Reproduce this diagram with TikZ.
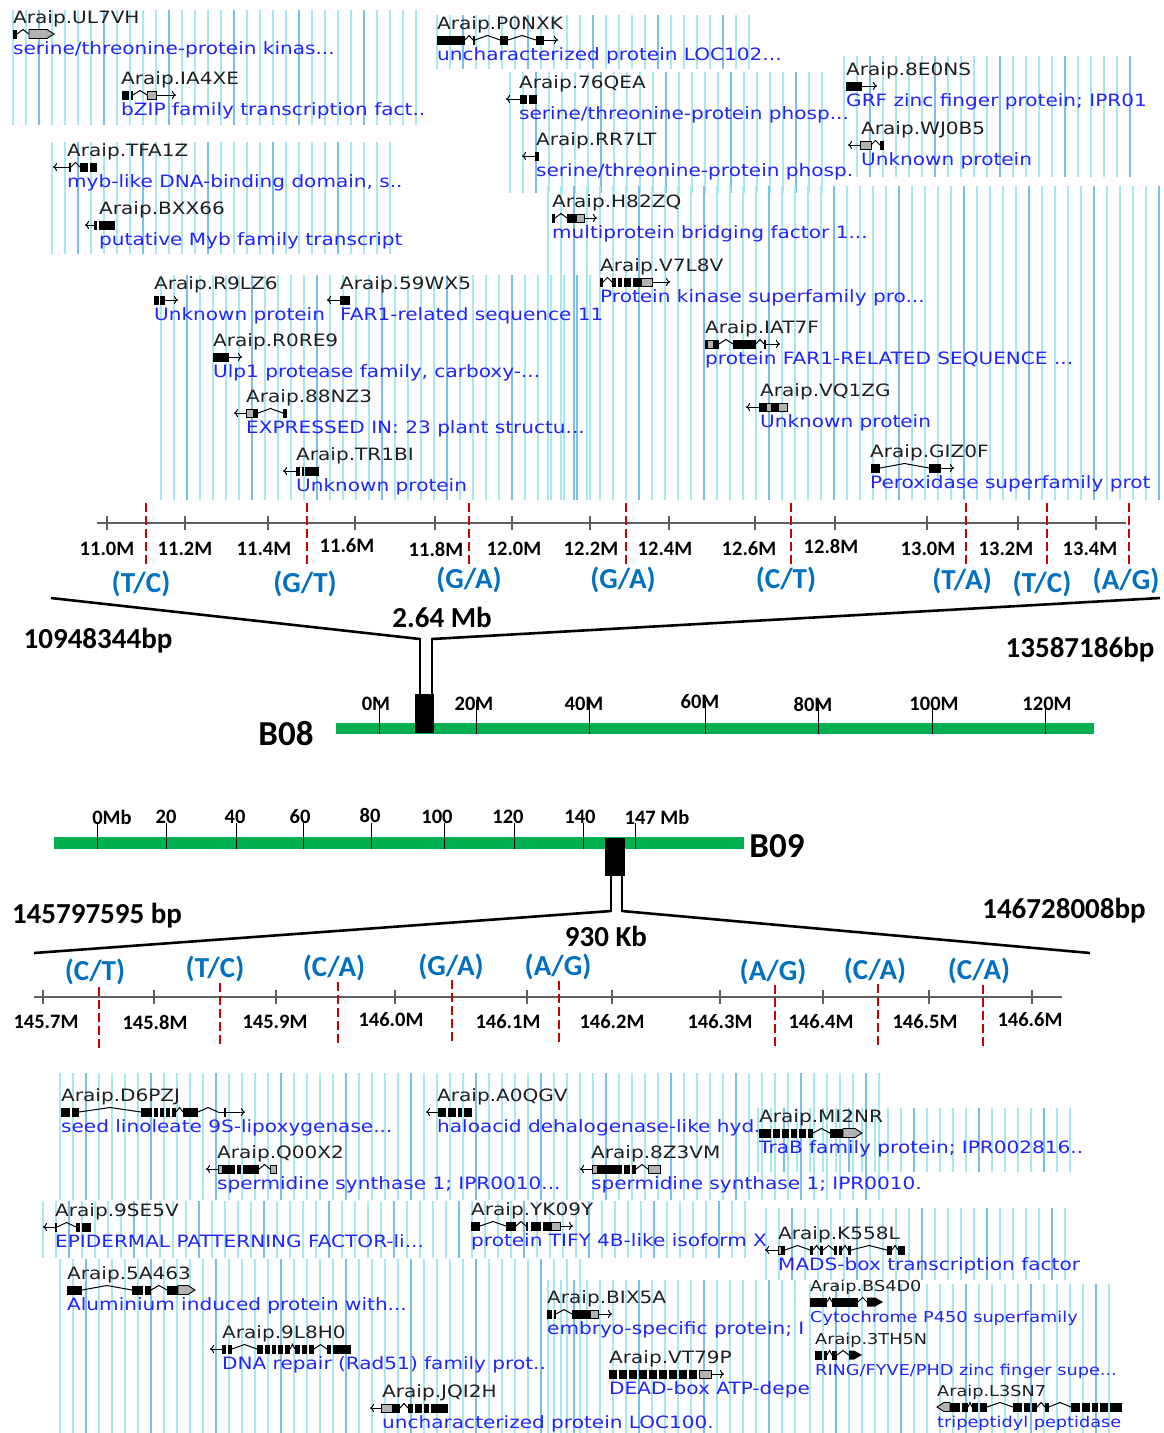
\documentclass[tikz,border=0pt]{standalone}
\usepackage{fontspec}
\setmainfont{Carlito}
\newfontfamily\genefont[FakeStretch=1.18]{DejaVu Sans}
\usetikzlibrary{arrows.meta}
\definecolor{snpblue}{RGB}{0,112,192}
\definecolor{chrgreen}{RGB}{0,176,80}
\definecolor{snpred}{RGB}{200,0,0}
\definecolor{gridc}{RGB}{168,232,242}
\definecolor{gridd}{RGB}{120,192,235}
\definecolor{descblue}{RGB}{35,35,250}
\definecolor{axgray}{RGB}{95,95,95}

\newcommand\cgrid[4]{%
  \pgfmathtruncatemacro\gN{(#2-#1)/13}%
  \foreach \k in {0,...,\gN}{%
    \pgfmathsetmacro\gx{#1+13*\k}%
    \pgfmathtruncatemacro\gm{mod(\k,5)}%
    \ifnum\gm=2 \draw[gridd,line width=1.3pt] (\gx,#3) -- (\gx,#4);%
    \else \draw[gridc,line width=1.3pt] (\gx,#3) -- (\gx,#4);\fi
  }%
}
\newcommand\gEx[3]{\fill[black] (#1,#3-4.5) rectangle (#2,#3+4.5);}
\newcommand\gUt[3]{\filldraw[fill=gray!60,draw=black,line width=0.9pt] (#1,#3-4) rectangle (#2,#3+4);}
\newcommand\gIn[3]{\draw[line width=1pt] (#1,#3) -- ({(#1+#2)/2},#3-4.5) -- (#2,#3);}
\newcommand\gLn[3]{\draw[line width=1pt] (#1,#3) -- (#2,#3);}
\newcommand\gAR[3]{\draw[line width=1pt,-{To[length=4pt,width=8pt]}] (#1,#3) -- (#2,#3);}
\newcommand\gAL[3]{\draw[line width=1pt,-{To[length=4pt,width=8pt]}] (#2,#3) -- (#1,#3);}
\newcommand\gPR[3]{\filldraw[fill=gray!60,draw=black,line width=0.9pt] (#1,#3-4.5) -- (#2-7,#3-4.5) -- (#2,#3) -- (#2-7,#3+4.5) -- (#1,#3+4.5) -- cycle;}
\newcommand\gPL[3]{\filldraw[fill=gray!60,draw=black,line width=0.9pt] (#2,#3-4.5) -- (#1+7,#3-4.5) -- (#1,#3) -- (#1+7,#3+4.5) -- (#2,#3+4.5) -- cycle;}
\newcommand\gBR[3]{\fill[black] (#1,#3-4.5) -- (#2-8,#3-4.5) -- (#2,#3) -- (#2-8,#3+4.5) -- (#1,#3+4.5) -- cycle;}
\newcommand\gene[5][]{%
  \node[gname,#1] (n-#2) at (#3,#4-11) {Araip.#2};
  \node[gdesc,#1] (d-#2) at (#3,#4+20) {#5};
}

\begin{document}
\begin{tikzpicture}[x=1pt,y=-1pt,
  gname/.style={font=\genefont\fontsize{17}{17}\selectfont, text=black!88, anchor=base west, inner sep=0pt},
  gdesc/.style={font=\genefont\fontsize{17}{17}\selectfont, text=descblue, anchor=base west, inner sep=0pt},
  gsm/.style={font=\genefont\fontsize{15}{15}\selectfont},
  snplab/.style={font=\bfseries\fontsize{29}{29}\selectfont, text=snpblue, inner sep=0pt},
  ticklab/.style={font=\bfseries\fontsize{20.5}{20.5}\selectfont, inner sep=0pt},
  biglab/.style={font=\bfseries\fontsize{29}{29}\selectfont, inner sep=0pt},
  chrlab/.style={font=\bfseries\fontsize{35}{35}\selectfont, inner sep=0pt},
  snpline/.style={snpred, line width=2.8pt, dash pattern=on 9pt off 4pt},
  axisline/.style={axgray, line width=1.4pt},
  zoomline/.style={black, line width=2.6pt},
  chrtick/.style={black, line width=0.8pt}
]
\useasboundingbox (0,0) rectangle (1163,1433);
\fill[white] (0,0) rectangle (1163,1433);

% ---------- cyan grids (top) ----------
\cgrid{13}{425}{10}{125}
\cgrid{437}{760}{15}{69}
\cgrid{510}{834}{72}{193}
\cgrid{844}{1140}{56}{177}
\cgrid{52}{390}{142}{254}
\cgrid{548}{1160}{186}{500}
\cgrid{161}{596}{275}{500}
% ---------- cyan grids (bottom) ----------
\cgrid{60}{890}{1073}{1200}
\cgrid{758}{1075}{1108}{1172}
\cgrid{43}{750}{1201}{1258}
\cgrid{766}{1077}{1208}{1280}
\cgrid{60}{580}{1259}{1433}
\cgrid{548}{800}{1280}{1433}
\cgrid{810}{1118}{1284}{1433}

% ---------- top genes ----------
\gene{UL7VH}{13}{34}{serine/threonine-protein kinas...}
\gEx{13}{17}{34} \gIn{17}{29}{34} \gPR{29}{54}{34}
\gene{IA4XE}{121}{95}{bZIP family transcription fact..}
\gEx{122}{129}{95} \gEx{130.5}{132.5}{95} \gIn{133}{147}{95} \gUt{147}{156}{95} \gAR{156}{176}{95}
\gene{TFA1Z}{67}{167}{myb-like DNA-binding domain, s..}
\gAL{53}{69}{167} \gEx{69}{71}{167} \gIn{71}{80}{167} \gEx{80}{88}{167} \gEx{89.5}{97}{167}
\gene{BXX66}{99}{225}{putative Myb family transcript}
\gAL{85}{94}{225} \gEx{94}{97}{225} \gEx{99}{115}{225}
\gene{P0NXK}{437}{40}{uncharacterized protein LOC102...}
\gEx{437}{465}{40} \gIn{465}{473}{40} \gEx{473}{475}{40} \gIn{475}{500}{40} \gEx{500}{508}{40} \gIn{508}{536}{40} \gEx{536}{544}{40} \gAR{544}{558}{40}
\gene{76QEA}{519}{99}{serine/threonine-protein phosp...}
\gAL{506}{520}{99} \gEx{520}{527}{99} \gEx{528.5}{537}{99}
\gene{RR7LT}{536}{156}{serine/threonine-protein phosp.}
\gAL{522}{535}{156} \gEx{535}{539}{156}
\gene{8E0NS}{846}{86}{GRF zinc finger protein; IPR01}
\gEx{846}{862}{86} \gAR{862}{877}{86}
\gene{WJ0B5}{861}{145}{Unknown protein}
\gAL{848}{860}{145} \gUt{860}{871}{145} \gIn{871}{880}{145} \gEx{880}{884}{145}
\gene{H82ZQ}{552}{218}{multiprotein bridging factor 1...}
\gEx{552}{555}{218} \gIn{555}{567}{218} \gEx{567}{576}{218} \gUt{576}{584}{218} \gAR{584}{597}{218}
\gene{V7L8V}{600}{282}{Protein kinase superfamily pro...}
\gEx{600}{603}{282} \gIn{603}{612}{282} \gEx{612}{616}{282} \gEx{618}{622}{282} \gEx{624}{631}{282} \gEx{633}{641}{282} \gUt{641}{652}{282} \gAR{652}{670}{282}
\gene{R9LZ6}{154}{300}{Unknown protein}
\gEx{154}{159}{300} \gEx{160}{165}{300} \gAR{165}{178}{300}
\gene{59WX5}{340}{300}{FAR1-related sequence 11}
\gAL{327}{340}{300} \gEx{340}{350}{300}
\gene{R0RE9}{213}{357}{Ulp1 protease family, carboxy-...}
\gEx{213}{229}{357} \gAR{229}{242}{357}
\gene{88NZ3}{246}{413}{EXPRESSED IN: 23 plant structu...}
\gAL{234}{246}{413} \gUt{246}{253}{413} \gEx{253}{258}{413} \gIn{258}{283}{413} \gEx{283}{287}{413}
\gene{TR1BI}{296}{471}{Unknown protein}
\gAL{283}{296}{471} \gEx{296}{300}{471} \gEx{301.5}{304}{471} \gEx{305}{319}{471}
\gene{IAT7F}{705}{344}{protein FAR1-RELATED SEQUENCE ...}
\gEx{705}{707}{344} \gUt{707}{713}{344} \gEx{713}{719}{344} \gIn{719}{733}{344} \gEx{733}{756}{344} \gIn{756}{764}{344} \gEx{764}{766}{344} \gAR{766}{780}{344}
\gene{VQ1ZG}{760}{407}{Unknown protein}
\gAL{746}{759}{407} \gEx{759}{766}{407} \gUt{766}{771}{407} \gEx{771}{778}{407} \gUt{778}{787}{407}
\gene{GIZ0F}{870}{468}{Peroxidase superfamily prot}
\gEx{871}{880}{468} \gIn{880}{929}{468} \gEx{929}{941}{468} \gAR{941}{954}{468}

% ---------- top axis ----------
\draw[axisline] (97,523) -- (1126,523);
\foreach \t in {107,185,268,355,435,512,590,669,755,835,927,1018,1096}
  \draw[axisline] (\t,516) -- (\t,530);
\foreach \lx/\ly/\lt [count=\i] in {107/549/11.0M,185/549/11.2M,264/549/11.4M,347/546/11.6M,436/549/11.8M,514/549/12.0M,591/549/12.2M,665/549/12.4M,749/549/12.6M,831/546/12.8M,928/549/13.0M,1006/549/13.2M,1090/549/13.4M}
  \node[ticklab] (tt\i) at (\lx,\ly) {\lt};
\foreach \sx in {146,307,469,626,791,966,1047,1129}
  \draw[snpline] (\sx,503) -- (\sx,567);
\foreach \lx/\ly/\lt [count=\i] in {141/584/{(T/C)},305/584/{(G/T)},469/580/{(G/A)},623/580/{(G/A)},786/580/{(C/T)},962/581/{(T/A)},1042/584/{(T/C)},1126/581/{(A/G)}}
  \node[snplab] (ts\i) at (\lx,\ly) {\lt};

% ---------- B08 zoom ----------
\coordinate (zl1) at (51,598);
\coordinate (zl2) at (420,639);
\coordinate (zr2) at (432,639);
\coordinate (zr1) at (1160,598);
\draw[zoomline] (zl1) -- (zl2);
\draw[zoomline] (zr2) -- (zr1);
\draw[black,line width=2pt] (420,638) -- (420,695);
\draw[black,line width=2pt] (432,638) -- (432,695);
\node[biglab] (topspan) at (442,617) {2.64 Mb};
\node[biglab] (topL) at (98,641) {10948344bp};
\node[biglab] (topR) at (1080,650) {13587186bp};

% B08 chromosome
\fill[chrgreen] (336,723) rectangle (1094,734);
\foreach \t in {379,476,589,705,818,932,1045}
  \draw[chrtick] (\t,700) -- (\t,734);
\foreach \lx/\ly/\lt [count=\i] in {376/704/0M,474/704/20M,584/704/40M,700/702/60M,813/704/80M,934/704/100M,1047/704/120M}
  \node[ticklab] (c8\i) at (\lx,\ly) {\lt};
\fill[black] (415,694) rectangle (434,733);
\node[chrlab] (b08) at (286,734) {B08};

% ---------- B09 chromosome ----------
\fill[chrgreen] (54,837) rectangle (744,849);
\foreach \t in {97,166,236,303,371,444,514,583,635}
  \draw[chrtick] (\t,823) -- (\t,849);
\foreach \lx/\ly/\lt [count=\i] in {112/817/0Mb,166/817/20,235/817/40,300/817/60,370/815/80,437/817/100,508/817/120,580/817/140,657/817/147 Mb}
  \node[ticklab] (c9\i) at (\lx,\ly) {\lt};
\fill[black] (605,838) rectangle (625,876);
\node[chrlab] (b09) at (777,846) {B09};
\draw[black,line width=2pt] (611,875) -- (611,912);
\draw[black,line width=2pt] (622,875) -- (622,912);
\coordinate (bl2) at (611,911);
\coordinate (bl1) at (34,953);
\coordinate (br2) at (622,911);
\coordinate (br1) at (1090,953);
\draw[zoomline] (bl2) -- (bl1);
\draw[zoomline] (br2) -- (br1);
\node[biglab] (botL) at (97,916) {145797595 bp};
\node[biglab] (botR) at (1064,911) {146728008bp};
\node[biglab] (botspan) at (606,936) {930 Kb};

% ---------- bottom axis ----------
\foreach \lx/\ly/\lt [count=\i] in {95/972/{(C/T)},215/969/{(T/C)},334/968/{(C/A)},451/967/{(G/A)},558/967/{(A/G)},773/972/{(A/G)},875/971/{(C/A)},979/971/{(C/A)}}
  \node[snplab] (bs\i) at (\lx,\ly) {\lt};
\draw[axisline] (34,997) -- (1062,997);
\foreach \t in {43,154,276,395,527,612,720,823,929,1032}
  \draw[axisline] (\t,990) -- (\t,1004);
\foreach \sx/\sa/\sb in {99/987/1048,220/983/1045,338/982/1043,452/980/1043,559/981/1043,775/985/1047,878/984/1045,983/985/1047}
  \draw[snpline] (\sx,\sa) -- (\sx,\sb);
\foreach \lx/\ly/\lt [count=\i] in {46/1022/145.7M,155/1022/145.8M,275/1022/145.9M,391/1020/146.0M,508/1022/146.1M,612/1022/146.2M,720/1022/146.3M,821/1022/146.4M,925/1022/146.5M,1030/1020/146.6M}
  \node[ticklab] (bt\i) at (\lx,\ly) {\lt};

% ---------- bottom genes ----------
\gene{D6PZJ}{61}{1112}{seed linoleate 9S-lipoxygenase...}
\gEx{61}{70}{1112} \gEx{71.5}{79}{1112} \gIn{79}{141}{1112} \gEx{141}{152}{1112} \gEx{154}{158}{1112} \gEx{160}{164}{1112} \gEx{166}{170}{1112} \gEx{172}{176}{1112} \gIn{176}{183}{1112} \gEx{183}{198}{1112} \gIn{198}{218}{1112} \gLn{218}{231}{1112} \gEx{224}{226}{1112} \gAR{231}{245}{1112}
\gene{A0QGV}{437}{1112}{haloacid dehalogenase-like hyd.}
\gAL{426}{438}{1112} \gEx{438}{446}{1112} \gEx{448}{456}{1112} \gEx{458}{462}{1112} \gEx{464}{472}{1112}
\gene{Q00X2}{217}{1169}{spermidine synthase 1; IPR0010...}
\gAL{206}{218}{1169} \gUt{218}{222}{1169} \gEx{222}{235}{1169} \gEx{237}{241}{1169} \gEx{243}{259}{1169} \gIn{259}{270}{1169} \gUt{270}{276}{1169}
\gene{8Z3VM}{591}{1169}{spermidine synthase 1; IPR0010.}
\gAL{580}{592}{1169} \gUt{592}{597}{1169} \gEx{597}{622}{1169} \gEx{624}{630}{1169} \gEx{632}{636}{1169} \gIn{636}{648}{1169} \gUt{648}{660}{1169}
\gene{MI2NR}{759}{1133}{TraB family protein; IPR002816..}
\gEx{759}{771}{1133} \gEx{773}{780}{1133} \gEx{782}{789}{1133} \gEx{791}{797}{1133} \gEx{799}{806}{1133} \gEx{808}{813}{1133} \gIn{813}{830}{1133} \gEx{830}{843}{1133} \gPR{843}{862}{1133}
\gene{9SE5V}{55}{1227}{EPIDERMAL PATTERNING FACTOR-li...}
\gAL{43}{55}{1227} \gEx{55}{57}{1227} \gIn{57}{76}{1227} \gEx{76}{80}{1227} \gEx{82}{91}{1227}
\gene{YK09Y}{471}{1226}{protein TIFY 4B-like isoform X}
\gEx{471}{480}{1226} \gIn{480}{506}{1226} \gEx{506}{516}{1226} \gIn{516}{526}{1226} \gEx{526}{528}{1226} \gEx{531}{541}{1226} \gEx{543}{551}{1226} \gUt{551}{560}{1226} \gAR{560}{573}{1226}
\gene{K558L}{778}{1250}{MADS-box transcription factor}
\gAL{765}{778}{1250} \gUt{778}{781}{1250} \gEx{781}{785}{1250} \gIn{785}{810}{1250} \gEx{810}{813}{1250} \gIn{813}{820}{1250} \gEx{820}{823}{1250} \gIn{823}{834}{1250} \gEx{834}{837}{1250} \gEx{839}{842}{1250} \gIn{842}{848}{1250} \gEx{848}{851}{1250} \gIn{851}{887}{1250} \gEx{887}{892}{1250} \gIn{892}{898}{1250} \gEx{898}{905}{1250}
\gene{5A463}{67}{1290}{Aluminium induced protein with...}
\gEx{67}{82}{1290} \gIn{82}{132}{1290} \gEx{132}{143}{1290} \gEx{145}{151}{1290} \gIn{151}{167}{1290} \gEx{167}{178}{1290} \gPR{178}{195}{1290}
\gene{BIX5A}{547}{1314}{embryo-specific protein; I}
\gEx{547}{552}{1314} \gEx{553.5}{556}{1314} \gIn{556}{572}{1314} \gEx{572}{590}{1314} \gUt{590}{598}{1314} \gAR{598}{612}{1314}
\gene[gsm]{BS4D0}{810}{1302}{Cytochrome P450 superfamily}
\gEx{810}{827}{1302} \gIn{827}{832}{1302} \gEx{832}{858}{1302} \gIn{858}{867}{1302} \gBR{867}{883}{1302}
\gene{9L8H0}{222}{1349}{DNA repair (Rad51) family prot..}
\gAL{210}{222}{1349} \gEx{222}{226}{1349} \gEx{228}{232}{1349} \gIn{232}{257}{1349} \gEx{257}{263}{1349} \gEx{265}{270}{1349} \gEx{272}{276}{1349} \gEx{278}{283}{1349} \gEx{285}{290}{1349} \gIn{290}{295}{1349} \gEx{295}{300}{1349} \gEx{302}{307}{1349} \gEx{309}{314}{1349} \gIn{314}{327}{1349} \gEx{327}{331}{1349} \gEx{333}{351}{1349}
\gene{VT79P}{609}{1374}{DEAD-box ATP-depe}
\foreach \a in {609,619,...,689}{\gEx{\a}{\a+8}{1374}}
\gUt{699}{711}{1374} \gAR{711}{724}{1374}
\gene[gsm]{3TH5N}{815}{1355}{RING/FYVE/PHD zinc finger supe...}
\gEx{815}{822}{1355} \gEx{823.5}{827}{1355} \gIn{827}{832}{1355} \gEx{832}{837}{1355} \gIn{837}{849}{1355} \gBR{849}{862}{1355}
\gene{JQI2H}{382}{1408}{uncharacterized protein LOC100.}
\gAL{370}{381}{1408} \gUt{381}{392}{1408} \gEx{392}{400}{1408} \gIn{400}{408}{1408} \gEx{408}{413}{1408} \gEx{415}{422}{1408} \gEx{424}{429}{1408} \gEx{431}{448}{1408}
\gene[gsm]{L3SN7}{937}{1407}{tripeptidyl peptidase}
\gPL{937}{950}{1407} \gEx{950}{960}{1407} \gEx{962}{968}{1407} \gIn{968}{972}{1407} \gEx{972}{978}{1407} \gEx{980}{987}{1407} \gIn{987}{1013}{1407} \gEx{1013}{1022}{1407} \gEx{1024}{1030}{1407} \gEx{1032}{1037}{1407} \gIn{1037}{1045}{1407} \gEx{1045}{1049}{1407} \gIn{1049}{1071}{1407} \gEx{1071}{1080}{1407} \gEx{1082}{1090}{1407} \gEx{1092}{1098}{1407} \gEx{1100}{1108}{1407} \gEx{1110}{1122}{1407}
\end{tikzpicture}
\end{document}
